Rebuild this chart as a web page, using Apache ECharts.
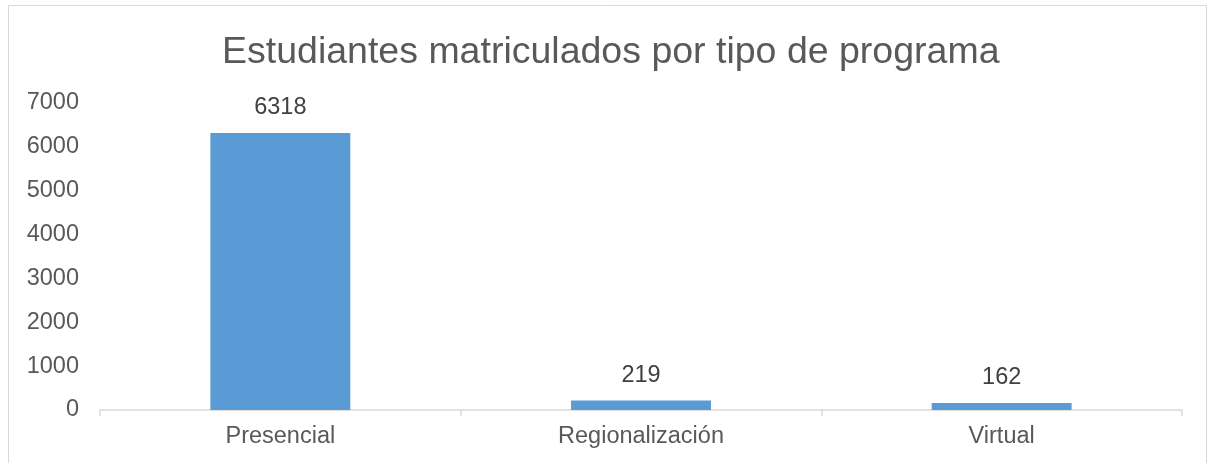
<!DOCTYPE html>
<html>
<head>
<meta charset="utf-8">
<script src="https://cdn.jsdelivr.net/npm/echarts@6/dist/echarts.min.js"></script>
<style>
html,body{margin:0;padding:0;background:#fff;}
#c{width:1211px;height:463px;}
</style>
</head>
<body>
<div id="c"></div>
<script>
const titleText = 'Estudiantes matriculados por tipo de programa';
const categories = ['Presencial', 'Regionalización', 'Virtual'];
const values = [6318, 219, 162];
const yTicks = [0, 1000, 2000, 3000, 4000, 5000, 6000, 7000];

const chart = echarts.init(document.getElementById('c'));
chart.setOption({
  animation: false,
  graphic: [{
    type: 'rect',
    shape: {x: 8.5, y: 5.5, width: 1198, height: 470},
    style: {fill: 'none', stroke: '#D9D9D9', lineWidth: 1},
    silent: true
  }],
  title: {
    text: titleText,
    left: 217,
    top: 29,
    textStyle: {fontFamily: 'Liberation Sans, Arial, sans-serif', fontSize: 37.5, fontWeight: 'normal', color: '#595959'}
  },
  grid: {left: 100, right: 29, top: 103, bottom: 53, containLabel: false},
  xAxis: {
    type: 'category',
    data: categories,
    axisLine: {lineStyle: {color: '#D9D9D9', width: 1.5}},
    axisTick: {show: true, length: 6, alignWithLabel: false, lineStyle: {color: '#D9D9D9', width: 1.5}},
    axisLabel: {fontFamily: 'Liberation Sans, Arial, sans-serif', fontSize: 23.5, color: '#595959', margin: 15}
  },
  yAxis: {
    type: 'value',
    min: yTicks[0],
    max: yTicks[yTicks.length - 1],
    interval: 1000,
    axisLine: {show: false},
    axisTick: {show: false},
    splitLine: {show: false},
    axisLabel: {
      fontFamily: 'Liberation Sans, Arial, sans-serif', fontSize: 23.5, color: '#595959', margin: 21,
      formatter: function (v) { return String(v); }
    }
  },
  series: [{
    type: 'bar',
    data: values,
    barWidth: '38.8%',
    itemStyle: {color: '#5B9BD5'},
    label: {
      show: true,
      position: 'top',
      distance: 13,
      fontFamily: 'Liberation Sans, Arial, sans-serif',
      fontSize: 23.5,
      color: '#404040'
    }
  }]
});
</script>
</body>
</html>
